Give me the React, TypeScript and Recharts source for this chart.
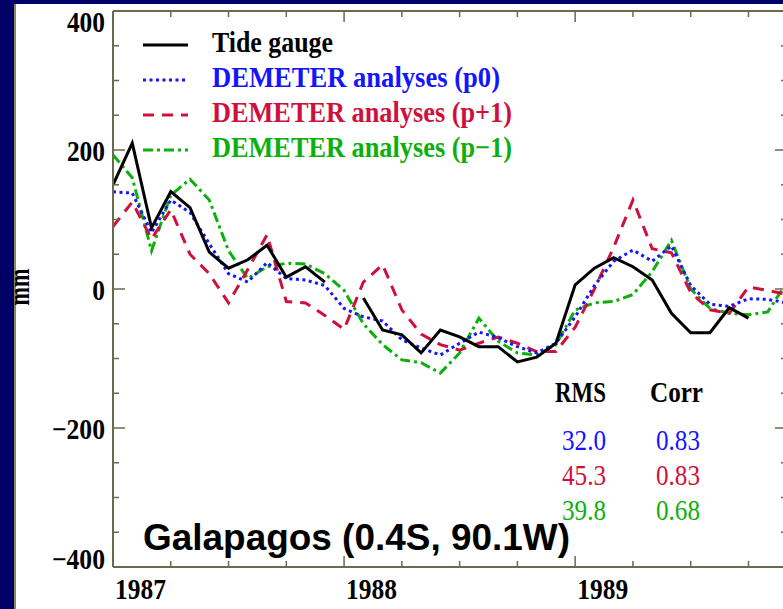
import React from 'react';
import { LineChart, Line, XAxis, YAxis } from 'recharts';

// ---- data (monthly, index 0 = Jan 1987) ----
const monthIndex = [
  0, 1, 2, 3, 4, 5, 6, 7, 8, 9, 10, 11,
  12, 13, 14, 15, 16, 17, 18, 19, 20, 21, 22, 23,
  24, 25, 26, 27, 28, 29, 30, 31, 32, 33, 34, 35,
];
const tideGauge: (number | null)[] = [
  150, 210, 88, 140, 117, 53, 30, 42, 63, 17, 32, 10,
  null, -13, -59, -66, -92, -59, -69, -83, -83, -105, -98, -78,
  6, 30, 45, 32, 13, -35, -63, -63, -27, -42, null, null,
];
const demeterP0 = [
  140, 138, 81, 128, 110, 65, 22, 10, 38, 15, 13, 5,
  -28, -40, -46, -73, -85, -95, -78, -62, -70, -83, -92, -78,
  -40, 5, 40, 56, 40, 62, 5, -22, -25, -14, -15, -20,
];
const demeterPPlus1 = [
  90, 125, 72, 114, 50, 22, -20, 28, 78, -18, -20, -38,
  -58, 10, 35, -30, -65, -80, -88, -78, -69, -78, -90, -90,
  -55, 0, 60, 128, 58, 52, -5, -30, -35, 3, -2, -8,
];
const demeterPMinus1 = [
  193, 160, 55, 135, 158, 128, 55, 15, 32, 37, 36, 22,
  -2, -50, -80, -102, -106, -121, -92, -42, -75, -92, -95, -80,
  -30, -20, -18, -8, 25, 70, 0, -28, -35, -37, -33, 10,
];

const yTickValues = [-400, -350, -300, -250, -200, -150, -100, -50, 0, 50, 100, 150, 200, 250, 300, 350, 400];
const xTickValues = [0, 3, 6, 9, 12, 15, 18, 21, 24, 27, 30, 33];
const yearLabels = ['1987', '1988', '1989'];
const seriesNames = ['Tide gauge', 'DEMETER analyses (p0)', 'DEMETER analyses (p+1)', 'DEMETER analyses (p\u22121)'];
const rmsValues = ['32.0', '45.3', '39.8'];
const corrValues = ['0.83', '0.83', '0.68'];
const stationLabel = 'Galapagos (0.4S, 90.1W)';

// ---- styles ----
const BLACK = '#000000';
const BLUE = '#1414ff';
const RED = '#d0103c';
const GREEN = '#0bb00b';
const AXIS = '#6a6a4c';
const NAVY = '#000066';
const SERIF = '"Liberation Serif", "Times New Roman", serif';
const SANS = '"Liberation Sans", Arial, sans-serif';

const data = monthIndex.map((m, i) => ({
  m,
  tide: tideGauge[i],
  p0: demeterP0[i],
  pp1: demeterPPlus1[i],
  pm1: demeterPMinus1[i],
}));

const fmtY = (v: number) => (v < 0 ? '\u2212' + Math.abs(v) : String(v));

const LeftTick = (props: any) => {
  const { x, y, payload } = props;
  const v = payload.value;
  const major = v % 200 === 0;
  const label = fmtY(v);
  const digits = String(Math.abs(v)).length;
  const w = digits * 12.7 + (v < 0 ? 15 : 0);
  const cy = Math.min(Math.max(y, 21), 558);
  return (
    <g>
      <line x1={x} x2={x + (major ? 12 : 6)} y1={y} y2={y} stroke={AXIS} strokeWidth={1.5} />
      {major && (
        <text
          x={x - 8 - w}
          y={cy + 11}
          fontFamily={SERIF}
          fontWeight="bold"
          fontSize={29}
          fill="#000"
          textLength={w}
          lengthAdjust="spacingAndGlyphs"
        >
          {label}
        </text>
      )}
    </g>
  );
};

const RightTick = (props: any) => {
  const { x, y, payload } = props;
  const major = payload.value % 200 === 0;
  return <line x1={x} x2={x - (major ? 12 : 6)} y1={y} y2={y} stroke={AXIS} strokeWidth={1.5} />;
};

const BottomTick = (props: any) => {
  const { x, y, payload } = props;
  const m = payload.value;
  const major = m % 12 === 0;
  return (
    <g>
      <line x1={x} x2={x} y1={y} y2={y - (major ? 11 : 6)} stroke={AXIS} strokeWidth={1.5} />
      {major && (
        <text
          x={x + 2}
          y={599}
          fontFamily={SERIF}
          fontWeight="bold"
          fontSize={29}
          fill="#000"
          textLength={51}
          lengthAdjust="spacingAndGlyphs"
        >
          {yearLabels[m / 12]}
        </text>
      )}
    </g>
  );
};

const TopTick = (props: any) => {
  const { x, y, payload } = props;
  const major = payload.value % 12 === 0;
  return <line x1={x} x2={x} y1={y} y2={y + (major ? 11 : 6)} stroke={AXIS} strokeWidth={1.5} />;
};

const legendRows = [
  { name: seriesNames[0], color: BLACK, dash: undefined as string | undefined, lineY: 45, base: 52, w: 121 },
  { name: seriesNames[1], color: BLUE, dash: '3 3.5', lineY: 80, base: 87, w: 288 },
  { name: seriesNames[2], color: RED, dash: '11 8', lineY: 115, base: 122, w: 300 },
  { name: seriesNames[3], color: GREEN, dash: '10 4 3 4', lineY: 150, base: 157, w: 300 },
];
const statColors = [BLUE, RED, GREEN];

export default function App() {
  return (
    <div
      style={{
        position: 'fixed',
        left: 0,
        top: 0,
        width: 783,
        height: 609,
        overflow: 'hidden',
        background: NAVY,
      }}
    >
      <div
        style={{
          position: 'absolute',
          left: 14,
          top: 4,
          right: 0,
          bottom: 0,
          background: '#fff',
          borderLeft: '2px solid #8a8a5a',
        }}
      />
      <div style={{ position: 'absolute', left: 0, top: 0 }}>
        <LineChart width={800} height={609} data={data} margin={{ top: 1, right: 0, bottom: 0, left: 0 }}>
          <XAxis
            xAxisId="bottom"
            dataKey="m"
            type="number"
            domain={[0, 35]}
            allowDataOverflow
            ticks={xTickValues}
            interval={0}
            height={42}
            tickLine={false}
            tickSize={0}
            tickMargin={0}
            axisLine={{ stroke: AXIS, strokeWidth: 2 }}
            tick={(p: any) => <BottomTick {...p} />}
          />
          <XAxis
            xAxisId="top"
            orientation="top"
            dataKey="m"
            type="number"
            domain={[0, 35]}
            allowDataOverflow
            ticks={xTickValues}
            interval={0}
            height={10}
            tickLine={false}
            tickSize={0}
            tickMargin={0}
            axisLine={{ stroke: AXIS, strokeWidth: 2 }}
            tick={(p: any) => <TopTick {...p} />}
          />
          <YAxis
            yAxisId="left"
            type="number"
            domain={[-400, 400]}
            allowDataOverflow
            ticks={yTickValues}
            interval={0}
            width={113}
            tickLine={false}
            tickSize={0}
            tickMargin={0}
            axisLine={{ stroke: AXIS, strokeWidth: 2 }}
            tick={(p: any) => <LeftTick {...p} />}
          />
          <YAxis
            yAxisId="right"
            orientation="right"
            type="number"
            domain={[-400, 400]}
            allowDataOverflow
            ticks={yTickValues}
            interval={0}
            width={13}
            tickLine={false}
            tickSize={0}
            tickMargin={0}
            axisLine={{ stroke: AXIS, strokeWidth: 2 }}
            tick={(p: any) => <RightTick {...p} />}
          />
          <Line
            xAxisId="bottom"
            yAxisId="left"
            type="linear"
            dataKey="pm1"
            stroke={GREEN}
            strokeWidth={3}
            strokeDasharray="10 4 3 4"
            dot={false}
            activeDot={false}
            isAnimationActive={false}
          />
          <Line
            xAxisId="bottom"
            yAxisId="left"
            type="linear"
            dataKey="pp1"
            stroke={RED}
            strokeWidth={3}
            strokeDasharray="11 8"
            dot={false}
            activeDot={false}
            isAnimationActive={false}
          />
          <Line
            xAxisId="bottom"
            yAxisId="left"
            type="linear"
            dataKey="p0"
            stroke={BLUE}
            strokeWidth={3}
            strokeDasharray="3 3.5"
            dot={false}
            activeDot={false}
            isAnimationActive={false}
          />
          <Line
            xAxisId="bottom"
            yAxisId="left"
            type="linear"
            dataKey="tide"
            stroke={BLACK}
            strokeWidth={3}
            connectNulls={false}
            dot={false}
            activeDot={false}
            isAnimationActive={false}
          />
        </LineChart>
      </div>
      <svg
        width={783}
        height={609}
        style={{ position: 'absolute', left: 0, top: 0, pointerEvents: 'none' }}
      >
        {legendRows.map((r) => (
          <g key={r.name}>
            <line x1={143} x2={188} y1={r.lineY} y2={r.lineY} stroke={r.color} strokeWidth={3} strokeDasharray={r.dash} />
            <text
              x={212}
              y={r.base}
              fontFamily={SERIF}
              fontWeight="bold"
              fontSize={29}
              fill={r.color}
              textLength={r.w}
              lengthAdjust="spacingAndGlyphs"
            >
              {r.name}
            </text>
          </g>
        ))}
        <text x={555} y={402} fontFamily={SERIF} fontWeight="bold" fontSize={29} fill="#000" textLength={51} lengthAdjust="spacingAndGlyphs">
          RMS
        </text>
        <text x={650} y={402} fontFamily={SERIF} fontWeight="bold" fontSize={29} fill="#000" textLength={53} lengthAdjust="spacingAndGlyphs">
          Corr
        </text>
        {rmsValues.map((v, i) => (
          <text key={'r' + i} x={562} y={450 + i * 35} fontFamily={SERIF} fontSize={29} fill={statColors[i]} textLength={44} lengthAdjust="spacingAndGlyphs">
            {v}
          </text>
        ))}
        {corrValues.map((v, i) => (
          <text key={'c' + i} x={656} y={450 + i * 35} fontFamily={SERIF} fontSize={29} fill={statColors[i]} textLength={44} lengthAdjust="spacingAndGlyphs">
            {v}
          </text>
        ))}
        <text x={143} y={550} fontFamily={SANS} fontWeight="bold" fontSize={37} fill="#000" textLength={427} lengthAdjust="spacingAndGlyphs">
          {stationLabel}
        </text>
        <text
          transform="translate(29,287) rotate(-90)"
          textAnchor="middle"
          fontFamily={SERIF}
          fontWeight="bold"
          fontSize={29}
          fill="#000"
          textLength={37}
          lengthAdjust="spacingAndGlyphs"
        >
          mm
        </text>
      </svg>
    </div>
  );
}
